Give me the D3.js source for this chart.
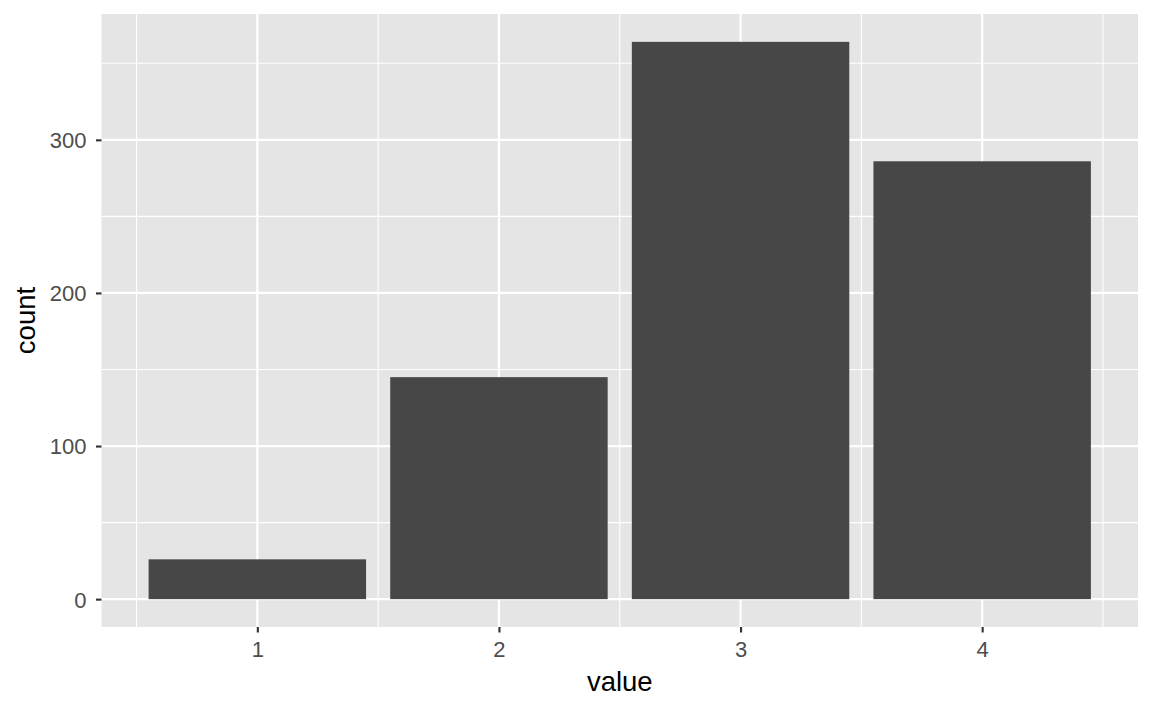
<!DOCTYPE html>
<html><head><meta charset="utf-8">
<script src="https://cdn.jsdelivr.net/npm/d3@7"></script>
<style>body{margin:0;background:#fff}svg{display:block}text{font-family:"Liberation Sans",Arial,sans-serif}</style>
</head><body><svg id="c" width="1152" height="711"></svg>
<script>
const values = [1, 2, 3, 4];
const counts = [26, 145, 364, 286];
const xTicks = [1, 2, 3, 4];
const xMinor = [0.5, 1.5, 2.5, 3.5, 4.5];
const yTicks = [0, 100, 200, 300];
const yMinor = [50, 150, 250, 350];

const L = 101.5, R = 1138, T = 14, B = 627;
const svg = d3.select("#c");
const xr = [0.55, 4.45], xe = (xr[1]-xr[0])*0.05;
const x = d3.scaleLinear().domain([xr[0]-xe, xr[1]+xe]).range([L, R]);
const ymax = d3.max(counts), ye = ymax*0.05;
const y = d3.scaleLinear().domain([-ye, ymax+ye]).range([B, T]);

svg.append("rect").attr("x",L).attr("y",T).attr("width",R-L).attr("height",B-T).attr("fill","#e5e5e5");
const g = svg.append("g");
g.selectAll(".xm").data(xMinor).join("line").attr("x1",d=>x(d)).attr("x2",d=>x(d)).attr("y1",T).attr("y2",B).attr("stroke","#fff").attr("stroke-width",1.1);
g.selectAll(".ym").data(yMinor).join("line").attr("y1",d=>y(d)).attr("y2",d=>y(d)).attr("x1",L).attr("x2",R).attr("stroke","#fff").attr("stroke-width",1.1);
g.selectAll(".xM").data(xTicks).join("line").attr("x1",d=>x(d)).attr("x2",d=>x(d)).attr("y1",T).attr("y2",B).attr("stroke","#fff").attr("stroke-width",2.2);
g.selectAll(".yM").data(yTicks).join("line").attr("y1",d=>y(d)).attr("y2",d=>y(d)).attr("x1",L).attr("x2",R).attr("stroke","#fff").attr("stroke-width",2.2);

svg.selectAll(".bar").data(values).join("rect")
  .attr("x",d=>x(d-0.45)).attr("width",d=>x(d+0.45)-x(d-0.45))
  .attr("y",(d,i)=>y(counts[i])).attr("height",(d,i)=>y(0)-y(counts[i]))
  .attr("fill","#474747");

const xa = svg.append("g").attr("transform",`translate(0,${B})`)
  .call(d3.axisBottom(x).tickValues(xTicks).tickFormat(d3.format("d")).tickSize(5.5).tickPadding(4));
const ya = svg.append("g").attr("transform",`translate(${L},0)`)
  .call(d3.axisLeft(y).tickValues(yTicks).tickFormat(d3.format("d")).tickSize(5.5).tickPadding(4));
[xa,ya].forEach(a=>{
  a.select(".domain").remove();
  a.selectAll(".tick line").attr("stroke","#333").attr("stroke-width",2.1);
  a.selectAll(".tick text").attr("fill","#4d4d4d").style("font-size","22px");
});
xa.selectAll(".tick text").attr("dy",null).attr("y",null).attr("transform","translate(0,30)");
ya.selectAll(".tick text").attr("dy","0.36em").attr("x",-15);
svg.append("text").attr("x",(L+R)/2).attr("y",691).attr("text-anchor","middle").style("font-size","27.5px").attr("fill","#000").text("value");
svg.append("text").attr("transform",`translate(35,${(T+B)/2}) rotate(-90)`).attr("text-anchor","middle").style("font-size","27.5px").attr("fill","#000").text("count");
</script></body></html>
